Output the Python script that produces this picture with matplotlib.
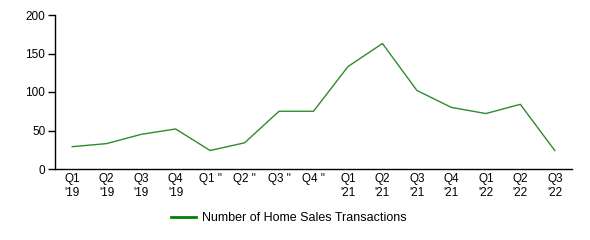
import matplotlib
matplotlib.use('Agg')
import matplotlib.pyplot as plt

plt.rcParams['font.family'] = ['Liberation Sans', 'DejaVu Sans']

quarters = ["Q1\n'19", "Q2\n'19", "Q3\n'19", "Q4\n'19",
            'Q1 "', 'Q2 "', 'Q3 "', 'Q4 "',
            "Q1\n'21", "Q2\n'21", "Q3\n'21", "Q4\n'21",
            "Q1\n'22", "Q2\n'22", "Q3\n'22"]
sales = [29, 33, 45, 52, 24, 34, 75, 75, 133, 163, 102, 80, 72, 84, 24]

fig = plt.figure(figsize=(5.9, 2.4), dpi=100)
ax = fig.add_axes([55 / 590, 1 - 169 / 240, (572 - 55) / 590, (169 - 15) / 240])

x = list(range(len(sales)))
ax.plot(x, sales, color='#2e8b2e', lw=1, label='Number of Home Sales Transactions')

ax.set_xlim(-0.5, len(sales) - 0.5)
ax.set_ylim(0, 200)
ax.set_yticks([0, 50, 100, 150, 200])
ax.set_xticks(x)
ax.set_xticklabels(quarters, fontsize=8.5, va='top', linespacing=1.2)
ax.tick_params(axis='x', length=0, pad=3)
ax.tick_params(axis='y', length=5, width=1, labelsize=8.5, pad=2)

for s in ('top', 'right'):
    ax.spines[s].set_visible(False)
for s in ('left', 'bottom'):
    ax.spines[s].set_linewidth(1)
    ax.spines[s].set_color('black')

leg = fig.legend(handles=[plt.Line2D([], [], color='green', lw=2)],
                 labels=['Number of Home Sales Transactions'],
                 loc='center', bbox_to_anchor=(0.49, 0.09), frameon=False,
                 fontsize=9, handlelength=2, handletextpad=0.5)

fig.savefig('out.png', dpi=100)
